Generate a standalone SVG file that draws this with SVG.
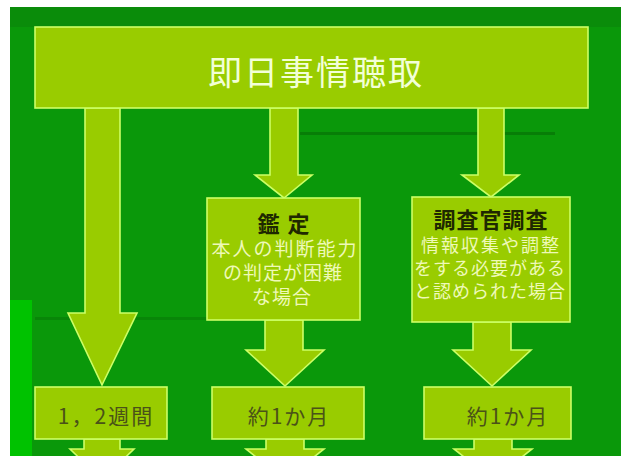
<svg xmlns="http://www.w3.org/2000/svg" width="621" height="456" viewBox="0 0 621 456">
<defs>
<style>
.box{fill:#99cc00;stroke:#ccff66;stroke-width:1.6}
.arrow{fill:#99cc00;stroke:#ccff66;stroke-width:1.6;stroke-linejoin:miter}
.jp{font-family:"Noto Sans CJK JP","Noto Sans CJK SC",sans-serif;text-anchor:middle;dominant-baseline:central}
.jt{font-family:"Liberation Sans","Noto Sans CJK JP","Noto Sans CJK SC",sans-serif;text-anchor:middle}
.title{font-size:34px;fill:#f2ffd6;letter-spacing:2px}
.head{font-size:22px;font-weight:bold;fill:#1e2800;letter-spacing:1px}
.body{fill:#eef9b8}
.dur{font-size:21px;fill:#4a5218;letter-spacing:2px}
</style>
</defs>
<rect x="0" y="0" width="621" height="456" fill="#ffffff"/>
<rect x="10" y="7" width="611" height="449" fill="#0a980a"/>
<rect x="10" y="7" width="611" height="20" fill="#0a8c0a"/>
<rect x="10" y="300" width="22" height="156" fill="#00c200"/>
<rect x="300" y="132" width="255" height="3" fill="#067406" opacity="0.7"/>
<rect x="35" y="317" width="175" height="3" fill="#067406" opacity="0.5"/>

<g id="connectors">
<polygon class="arrow" points="85,108 120,108 120,313 137,313 102,385 68,313 85,313"/>
<polygon class="arrow" points="270,108 298,108 298,175 312,175 284,198 255,175 270,175"/>
<polygon class="arrow" points="478,108 504,108 504,175 519,175 491,197 462,175 478,175"/>
<polygon class="arrow" points="265,320 303,320 303,350 324,350 285,386 246,350 265,350"/>
<polygon class="arrow" points="473,322 511,322 511,350 531,350 492,386 453,350 473,350"/>
<polygon class="arrow" points="84,439 120,439 120,449 134,449 102,480 70,449 84,449"/>
<polygon class="arrow" points="266,439 304,439 304,449 324,449 285,480 246,449 266,449"/>
<polygon class="arrow" points="474,439 512,439 512,449 532,449 493,480 454,449 474,449"/>
</g>

<g id="node-top">
<rect class="box" x="35" y="27" width="553" height="81"/>
<text class="jp title" x="316" y="70">即日事情聴取</text>
</g>

<g id="node-kantei">
<rect class="box" x="207" y="198" width="153" height="122"/>
<text class="jt head" x="284" y="232" xml:space="preserve">鑑 定</text>
<text class="jt body" x="285" y="256" font-size="19" letter-spacing="2">本人の判断能力</text>
<text class="jt body" x="283" y="280" font-size="19" letter-spacing="1">の判定が困難</text>
<text class="jt body" x="282" y="304" font-size="19" letter-spacing="1">な場合</text>
</g>

<g id="node-chousa">
<rect class="box" x="412" y="197" width="158" height="125"/>
<text class="jt head" x="491" y="228">調査官調査</text>
<text class="jt body" x="491" y="252" font-size="18" letter-spacing="2">情報収集や調整</text>
<text class="jt body" x="490" y="275" font-size="18" letter-spacing="1">をする必要がある</text>
<text class="jt body" x="490" y="298" font-size="18" letter-spacing="1">と認められた場合</text>
</g>

<g id="node-week">
<rect class="box" x="35" y="387" width="132" height="52"/>
<text class="jp dur" x="106" y="415">1，2週間</text>
</g>

<g id="node-month1">
<rect class="box" x="212" y="387" width="152" height="52"/>
<text class="jp dur" x="289" y="415">約1か月</text>
</g>

<g id="node-month2">
<rect class="box" x="424" y="387" width="147" height="52"/>
<text class="jp dur" x="508" y="415">約1か月</text>
</g>
</svg>
